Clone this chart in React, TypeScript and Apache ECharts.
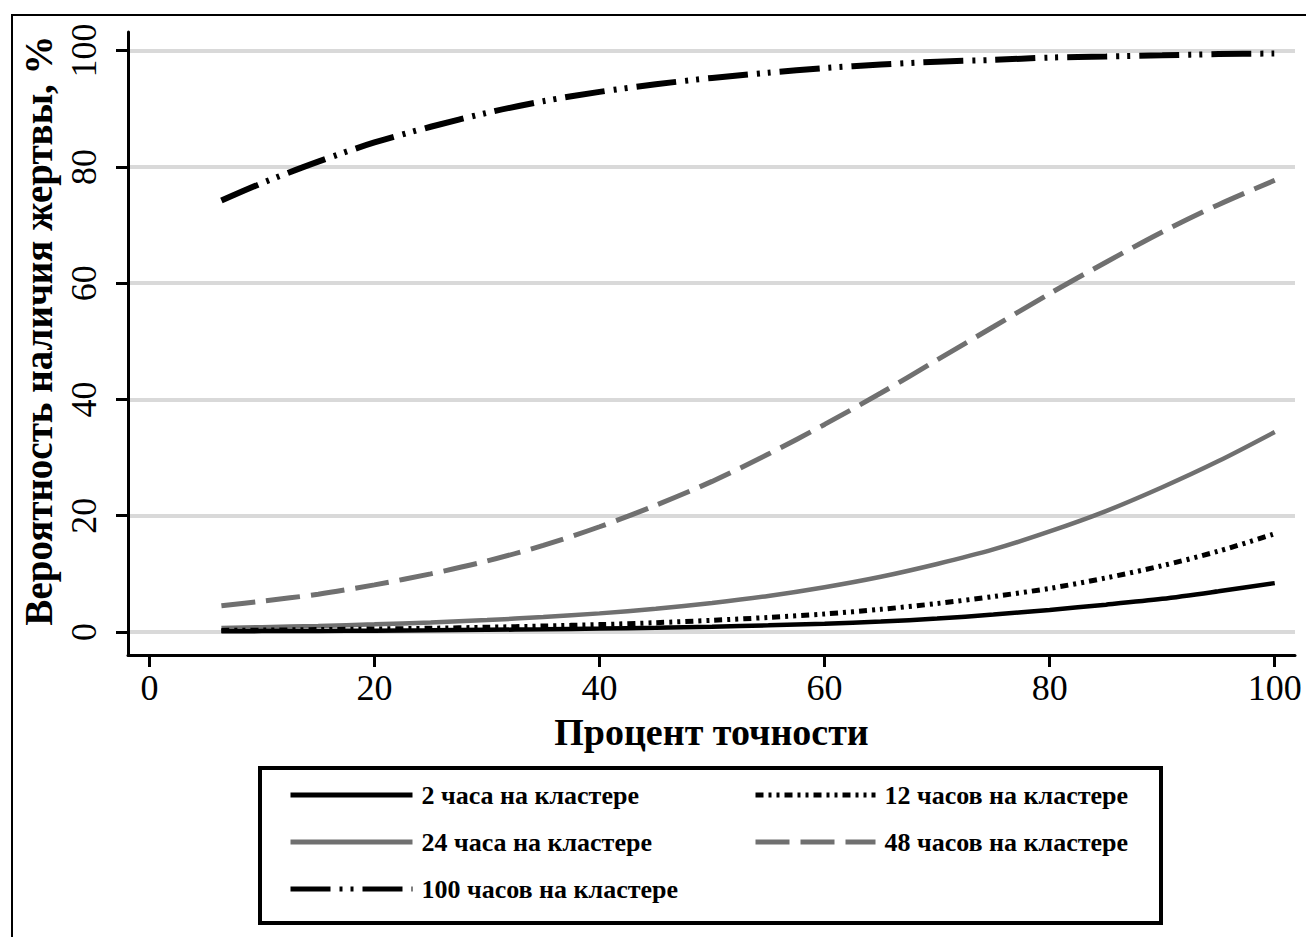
import React, { useEffect, useRef } from "react";
import * as echarts from "echarts";

const xs = [6.4, 10, 15, 20, 25, 30, 35, 40, 45, 50, 55, 60, 65, 70, 75, 80, 85, 90, 95, 100];
const h2 = [0.12, 0.15, 0.18, 0.23, 0.29, 0.37, 0.46, 0.58, 0.72, 0.91, 1.14, 1.43, 1.8, 2.3, 3.0, 3.8, 4.7, 5.7, 7.0, 8.4];
const h12 = [0.27, 0.32, 0.41, 0.51, 0.64, 0.81, 1.02, 1.27, 1.6, 2.0, 2.5, 3.1, 3.9, 4.9, 6.1, 7.5, 9.3, 11.4, 13.9, 16.9];
const h24 = [0.7, 0.83, 1.04, 1.31, 1.64, 2.05, 2.57, 3.2, 4.0, 5.0, 6.2, 7.7, 9.5, 11.7, 14.2, 17.3, 20.8, 24.9, 29.4, 34.4];
const h48 = [4.5, 5.3, 6.5, 8.1, 10.0, 12.2, 14.9, 18.1, 21.8, 25.9, 30.6, 35.7, 41.1, 46.8, 52.5, 58.2, 63.6, 68.8, 73.5, 77.7];
const h100 = [74.2, 77.2, 80.9, 84.2, 86.9, 89.3, 91.3, 92.9, 94.2, 95.3, 96.2, 97.0, 97.6, 98.1, 98.4, 98.8, 99.0, 99.2, 99.4, 99.5];

const names = [
  "2 часа на кластере",
  "12 часов на кластере",
  "24 часа на кластере",
  "48 часов на кластере",
  "100 часов на кластере",
];
const tickValues = [0, 20, 40, 60, 80, 100];
const xTitle = "Процент точности";
const yTitle = "Вероятность наличия жертвы, %";

const SERIF = '"Liberation Serif", "Times New Roman", serif';
const GRAY = "#707070";

export default function App() {
  const ref = useRef<HTMLDivElement>(null);
  useEffect(() => {
    document.body.style.margin = "0";
    const chart = echarts.init(ref.current!, null, { renderer: "svg" });
    const pair = (arr: number[]) => xs.map((x, i) => [x, arr[i]]);
    const legendText = {
      fontFamily: SERIF,
      fontWeight: "bold",
      fontSize: 26,
      color: "#000",
      lineHeight: 26,
      padding: [0, 0, 0, 4],
    };
    const legendCommon = {
      orient: "vertical",
      top: 777,
      itemHeight: 26,
      itemGap: 21,
      textStyle: legendText,
      itemStyle: { opacity: 0 },
      lineStyle: { width: 5 },
    };
    chart.setOption({
      animation: false,
      backgroundColor: "#fff",
      grid: { left: 128, right: 11, top: 32, bottom: 282, containLabel: false },
      xAxis: {
        type: "value",
        min: -1.9,
        max: 101.8,
        name: xTitle,
        nameLocation: "middle",
        nameGap: 58,
        nameTextStyle: { fontFamily: SERIF, fontWeight: "bold", fontSize: 38, color: "#000" },
        axisLine: { show: true, onZero: false, lineStyle: { color: "#000", width: 3 } },
        axisTick: { show: true, length: 12, customValues: tickValues, lineStyle: { color: "#000", width: 3 } },
        axisLabel: { customValues: tickValues, margin: 15, fontFamily: SERIF, fontSize: 36, color: "#000" },
        splitLine: { show: false },
      },
      yAxis: {
        type: "value",
        min: -3.96,
        max: 103.2,
        name: yTitle,
        nameLocation: "middle",
        nameGap: 58,
        nameTextStyle: { fontFamily: SERIF, fontWeight: "bold", fontSize: 39, color: "#000", padding: [0, 0, 0, 26] },
        axisLine: { show: true, onZero: false, lineStyle: { color: "#000", width: 3 } },
        axisTick: { show: true, length: 12, customValues: tickValues, lineStyle: { color: "#000", width: 3 } },
        axisLabel: { customValues: tickValues, rotate: 90, margin: 26, fontFamily: SERIF, fontSize: 36, color: "#000" },
        splitLine: { show: true, lineStyle: { color: "#d9d9d9", width: 4 } },
      },
      legend: [
        {
          ...legendCommon,
          data: [names[0], names[2], names[4]],
          left: 283,
          itemWidth: 122,
        },
        {
          ...legendCommon,
          data: [names[1], names[3]],
          left: 748,
          itemWidth: 120,
        },
      ],
      graphic: [
        {
          type: "rect",
          shape: { x: 12, y: 15, width: 1400, height: 1000 },
          style: { fill: "none", stroke: "#000", lineWidth: 2 },
          silent: true,
        },
        {
          type: "rect",
          shape: { x: 260, y: 768, width: 901, height: 155 },
          style: { fill: "none", stroke: "#000", lineWidth: 4 },
          silent: true,
        },
      ],
      series: [
        {
          name: names[4],
          type: "line",
          data: pair(h100),
          symbol: "none",
          smooth: 0.3,
          color: "#000",
          lineStyle: { color: "#000", width: 6, type: [40, 9, 3, 8, 3, 9], cap: "butt" },
        },
        {
          name: names[3],
          type: "line",
          data: pair(h48),
          symbol: "none",
          smooth: 0.3,
          color: GRAY,
          lineStyle: { color: GRAY, width: 5, type: [34, 11], cap: "butt" },
        },
        {
          name: names[2],
          type: "line",
          data: pair(h24),
          symbol: "none",
          smooth: 0.3,
          color: GRAY,
          lineStyle: { color: GRAY, width: 4.5, type: "solid" },
        },
        {
          name: names[1],
          type: "line",
          data: pair(h12),
          symbol: "none",
          smooth: 0.3,
          color: "#000",
          lineStyle: { color: "#000", width: 5, type: [8, 5, 3, 5, 3, 5], cap: "butt" },
        },
        {
          name: names[0],
          type: "line",
          data: pair(h2),
          symbol: "none",
          smooth: 0.3,
          color: "#000",
          lineStyle: { color: "#000", width: 4.5, type: "solid" },
        },
      ],
    });
    return () => chart.dispose();
  }, []);
  return (
    <div
      ref={ref}
      style={{ position: "absolute", left: 0, top: 0, width: 1306, height: 937, background: "#fff" }}
    />
  );
}
